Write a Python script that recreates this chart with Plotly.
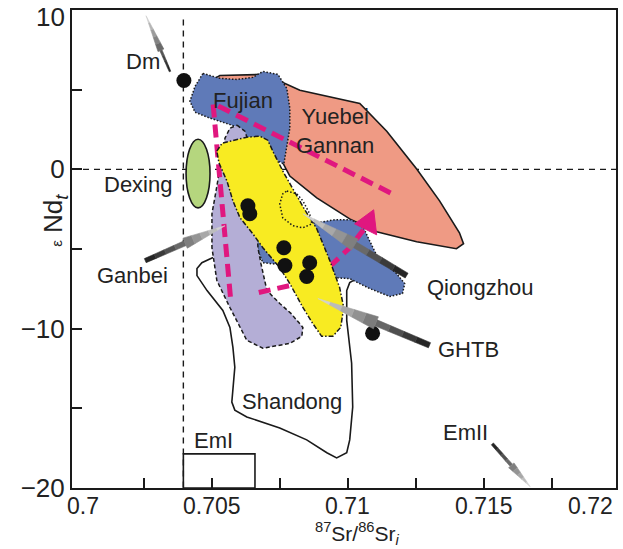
import math
import plotly.graph_objects as go

# ---------------- data (Sr-Nd isotope fields) ----------------
YUEBEI_X = [0.70494, 0.70530, 0.70695, 0.70824, 0.71044, 0.71143, 0.71253, 0.71337, 0.71410,
            0.71425, 0.71399, 0.71253, 0.71106, 0.71007, 0.70886, 0.70787, 0.70758, 0.70714, 0.70604]
YUEBEI_Y = [5.52, 5.89, 5.96, 4.96, 4.14, 2.39, 0.02, -1.98, -3.98,
            -4.67, -4.98, -4.54, -3.92, -3.11, -1.79, -0.42, 0.52, 1.77, 3.64]

FUJIAN_X = [0.70468, 0.70530, 0.70593, 0.70651, 0.70688, 0.70743, 0.70776, 0.70787, 0.70787,
            0.70776, 0.70765, 0.70677, 0.70585, 0.70494, 0.70439, 0.70420, 0.70439]
FUJIAN_Y = [6.02, 5.71, 5.64, 5.77, 6.14, 5.96, 5.08, 3.83, 2.58,
            1.33, 0.33, 1.14, 2.71, 3.21, 3.58, 4.27, 5.21]

QIONG_X = [0.70662, 0.70787, 0.70882, 0.70952, 0.71014, 0.71058, 0.71080, 0.71110, 0.71179,
           0.71209, 0.71201, 0.71154, 0.71080, 0.71007, 0.70945, 0.70824, 0.70750, 0.70688, 0.70670]
QIONG_Y = [-3.86, -3.23, -3.36, -3.17, -3.17, -3.67, -4.48, -5.54, -6.54,
           -7.17, -7.79, -7.98, -7.48, -6.86, -6.79, -6.36, -5.98, -5.86, -5.11]

GANBEI_X = [0.70593, 0.70622, 0.70648, 0.70662, 0.70670, 0.70681, 0.70703, 0.70750, 0.70791,
            0.70835, 0.70831, 0.70787, 0.70688, 0.70629, 0.70567, 0.70519, 0.70501, 0.70501,
            0.70516, 0.70534, 0.70549, 0.70567]
GANBEI_Y = [2.77, 2.39, 1.14, -1.98, -4.92, -5.92, -7.61, -8.42, -9.04,
            -9.92, -10.48, -10.92, -11.23, -10.73, -8.67, -6.98, -4.92, -2.79,
            -1.36, 0.52, 1.96, 2.58]

YELLOW_X = [0.70519, 0.70538, 0.70629, 0.70677, 0.70706, 0.70728, 0.70765, 0.70802, 0.70838,
            0.70886, 0.70934, 0.70970, 0.70985, 0.70974, 0.70945, 0.70904, 0.70871, 0.70835,
            0.70787, 0.70750, 0.70688, 0.70651, 0.70604, 0.70578, 0.70556, 0.70527]
YELLOW_Y = [1.14, 1.64, 2.02, 2.08, 1.83, 1.02, -0.23, -1.36, -2.42,
            -3.73, -5.73, -7.42, -8.67, -9.92, -10.48, -10.48, -9.67, -8.67,
            -7.17, -6.17, -4.92, -4.04, -3.04, -1.98, -0.73, 0.39]

SMALL_X = [0.70776, 0.70813, 0.70835, 0.70860, 0.70868, 0.70835, 0.70798, 0.70761, 0.70750, 0.70761]
SMALL_Y = [-1.36, -1.54, -1.98, -2.79, -3.42, -3.67, -3.54, -3.04, -2.17, -1.54]

SHANDONG_X = [0.70505, 0.70464, 0.70446, 0.70446, 0.70483, 0.70541, 0.70567, 0.70578, 0.70585,
              0.70578, 0.70574, 0.70585, 0.70629, 0.70750, 0.70849, 0.70923, 0.70959, 0.70996,
              0.71007, 0.71018, 0.71014, 0.70996, 0.70996, 0.71007, 0.71033]
SHANDONG_Y = [-5.54, -5.86, -6.23, -6.67, -7.61, -8.86, -9.92, -11.17, -12.42,
              -14.04, -14.61, -15.11, -15.54, -16.23, -16.98, -17.79, -18.11, -17.79,
              -16.98, -14.92, -12.17, -9.48, -7.61, -7.11, -6.86]

DEXING_BOX = [0.70406, 0.70494, -2.42, 1.89]   # x0, x1, y0, y1 of the ellipse
EMI_BOX = [0.70396, 0.70659, -20.0, -17.86]

TREND_A_X = [0.71157, 0.70505, 0.70571]
TREND_A_Y = [-1.48, 4.14, -8.42]
TREND_B_X = [0.70673, 0.70805, 0.70945, 0.71007, 0.71058]
TREND_B_Y = [-7.73, -7.23, -5.92, -4.92, -3.79]
TREND_HEAD_X = [0.71095, 0.71025, 0.71106]
TREND_HEAD_Y = [-2.54, -3.42, -4.11]

DOTS_X = [0.70398, 0.70633, 0.70640, 0.70765, 0.70769, 0.70860, 0.70849, 0.71091]
DOTS_Y = [5.58, -2.29, -2.79, -4.92, -6.04, -5.86, -6.73, -10.29]

# gray pointer arrows: tail -> tip
ARROW_TAIL_X = [0.70347, 0.70256, 0.71216, 0.71300, 0.71531]
ARROW_TAIL_Y = [6.14, -5.73, -6.67, -11.04, -17.23]
ARROW_TIP_X = [0.70259, 0.70549, 0.70835, 0.70890, 0.71670]
ARROW_TIP_Y = [9.64, -3.54, -2.79, -8.11, -19.92]

LABELS = ["Dm", "Fujian", "Yuebei<br>Gannan", "Dexing", "Ganbei", "Qiongzhou", "GHTB",
          "Shandong", "EmI", "EmII"]
LABEL_X = [0.70248, 0.70615, 0.70952, 0.70230, 0.70208, 0.71484, 0.71443, 0.70794, 0.70505, 0.71432]
LABEL_Y = [6.77, 4.33, 2.39, -0.98, -6.67, -7.42, -11.29, -14.54, -17.04, -16.54]

X_TICKS = [0.705, 0.71, 0.715]
X_MINOR = [0.7025, 0.7075, 0.7125, 0.7175]
X_LABEL_TEXT = ["0.7", "0.705", "0.71", "0.715", "0.72"]
X_LABEL_POS = [0.70028, 0.705, 0.71, 0.715, 0.71890]
Y_TICKS = [-20, -10, 0]
Y_TICK_TEXT = ["\u221220", "\u221210", "0"]
Y_MINOR = [-15, -5, 5]
Y_TOP_LABEL = "10"

# ---------------- layout constants ----------------
X0, X1 = 0.69987, 0.71985
Y0, Y1 = -20, 10
ML, MR, MT, MB = 72, 5, 10, 61
W, H = 623, 549
PW, PH = W - ML - MR, H - MT - MB
SX, SY = PW / (X1 - X0), PH / (Y1 - Y0)

FONT = "Liberation Sans, Arial, sans-serif"
INK = "#1a1a1a"
TXT = "#222222"

fig = go.Figure()


def poly(xs, ys, fill, dash, width=1.5):
    fig.add_trace(go.Scatter(x=xs + [xs[0]], y=ys + [ys[0]], mode="lines", fill="toself",
                             fillcolor=fill, line=dict(color=INK, width=width, dash=dash),
                             hoverinfo="skip"))


# Shandong (open outline)
fig.add_trace(go.Scatter(x=SHANDONG_X, y=SHANDONG_Y, mode="lines",
                         line=dict(color=INK, width=1.6), hoverinfo="skip"))
poly(YUEBEI_X, YUEBEI_Y, "#EF9A84", "solid", 1.6)
poly(FUJIAN_X, FUJIAN_Y, "#5F7AB8", "1.5px,1.8px")
poly(QIONG_X, QIONG_Y, "#5F7AB8", "1.5px,1.8px")
poly(GANBEI_X, GANBEI_Y, "#B4AED6", "4px,2.5px")

PINK = "#E0177F"
fig.add_trace(go.Scatter(x=TREND_A_X, y=TREND_A_Y, mode="lines",
                         line=dict(color=PINK, width=5, dash="13px,7px"), hoverinfo="skip"))
fig.add_trace(go.Scatter(x=TREND_B_X, y=TREND_B_Y, mode="lines",
                         line=dict(color=PINK, width=5, dash="12px,7px"), hoverinfo="skip"))
fig.add_trace(go.Scatter(x=TREND_HEAD_X + [TREND_HEAD_X[0]], y=TREND_HEAD_Y + [TREND_HEAD_Y[0]],
                         mode="lines", fill="toself", fillcolor=PINK,
                         line=dict(color=PINK, width=1), hoverinfo="skip"))

poly(YELLOW_X, YELLOW_Y, "#F8EB22", "5px,2px,1.5px,2px")
fig.add_trace(go.Scatter(x=SMALL_X + [SMALL_X[0]], y=SMALL_Y + [SMALL_Y[0]], mode="lines",
                         line=dict(color=INK, width=1.5, dash="1.5px,2px"), hoverinfo="skip"))

fig.add_trace(go.Scatter(x=DOTS_X, y=DOTS_Y, mode="markers",
                         marker=dict(size=15, color="#111111", line=dict(width=0)),
                         hoverinfo="skip"))


# gray tapered pointer arrows (gradient from dark tail to light tip)
ARROW_STYLE = [  # w_tail, w_neck, w_barb (half widths, px), head fraction
    (0.8, 1.2, 3.2, 0.62),
    (2.2, 2.6, 5.5, 0.5),
    (2.8, 3.2, 6.5, 0.5),
    (2.8, 3.2, 6.5, 0.52),
    (1.4, 1.6, 3.6, 0.5),
]


def lerp_col(a, b, t):
    ca = [int(a[i:i + 2], 16) for i in (1, 3, 5)]
    cb = [int(b[i:i + 2], 16) for i in (1, 3, 5)]
    return "rgb(%d,%d,%d)" % tuple(round(ca[k] + (cb[k] - ca[k]) * t) for k in range(3))


def add_arrow(tx, ty, px_, py_, style):
    w_tail, w_neck, w_barb, hf = style
    dxp, dyp = (px_ - tx) * SX, (py_ - ty) * SY
    L = math.hypot(dxp, dyp)
    nx, ny = -dyp / L, dxp / L

    def pt(t, w, s):
        return (tx + (px_ - tx) * t + s * nx * w / SX, ty + (py_ - ty) * t + s * ny * w / SY)

    h0 = 1 - hf
    segs = []
    ns, nh = 4, 5
    for i in range(ns):
        a, b = h0 * i / ns, h0 * (i + 1) / ns
        segs.append((a, b, w_tail + (w_neck - w_tail) * a / h0, w_tail + (w_neck - w_tail) * b / h0))
    for i in range(nh):
        a, b = h0 + hf * i / nh, h0 + hf * (i + 1) / nh
        segs.append((a, b, w_barb * (1 - a) / hf, w_barb * (1 - b) / hf))
    for a, b, wa, wb in segs:
        p = [pt(a, wa, 1), pt(b, wb, 1), pt(b, wb, -1), pt(a, wa, -1), pt(a, wa, 1)]
        col = lerp_col("#1c1c1c", "#dcdcdc", ((a + b) / 2) ** 1.1)
        fig.add_trace(go.Scatter(x=[q[0] for q in p], y=[q[1] for q in p], mode="lines",
                                 fill="toself", fillcolor=col, line=dict(color=col, width=0.6),
                                 hoverinfo="skip"))


for i in range(len(ARROW_TAIL_X)):
    add_arrow(ARROW_TAIL_X[i], ARROW_TAIL_Y[i], ARROW_TIP_X[i], ARROW_TIP_Y[i], ARROW_STYLE[i])

# reference lines, Dexing ellipse, EmI box
shapes = [
    dict(type="line", xref="x", yref="y", x0=0.70396, x1=0.70396, y0=9.4, y1=-20,
         line=dict(color=INK, width=1.4, dash="6px,5px"), layer="below"),
    dict(type="line", xref="x", yref="y", x0=X0, x1=X1, y0=0, y1=0,
         line=dict(color=INK, width=1.4, dash="6px,5px"), layer="below"),
    dict(type="circle", xref="x", yref="y", x0=DEXING_BOX[0], x1=DEXING_BOX[1],
         y0=DEXING_BOX[2], y1=DEXING_BOX[3], fillcolor="#B5D67E",
         line=dict(color=INK, width=1.6), layer="below"),
    dict(type="rect", xref="x", yref="y", x0=EMI_BOX[0], x1=EMI_BOX[1], y0=EMI_BOX[2],
         y1=EMI_BOX[3], line=dict(color=INK, width=1.6), layer="above"),
]

annotations = []
for t, x, y in zip(LABELS, LABEL_X, LABEL_Y):
    annotations.append(dict(text=t, x=x, y=y, xref="x", yref="y", showarrow=False,
                            font=dict(family=FONT, size=22, color=TXT), align="center"))
# x tick labels
for t, x in zip(X_LABEL_TEXT, X_LABEL_POS):
    annotations.append(dict(text=t, x=x, y=0, xref="x", yref="paper", yanchor="top",
                            yshift=-4, showarrow=False, borderpad=0,
                            font=dict(family=FONT, size=23, color=TXT)))
annotations.append(dict(text=Y_TOP_LABEL, x=0, y=Y1, xref="paper", yref="y", xanchor="right",
                        yanchor="middle", xshift=-5, yshift=-7, showarrow=False,
                        font=dict(family=FONT, size=26, color=TXT)))
annotations.append(dict(text="<sup>87</sup>Sr/<sup>86</sup>Sr<sub><i>i</i></sub>", x=0.71035,
                        y=0, xref="x", yref="paper", yanchor="bottom", yshift=-61,
                        showarrow=False, borderpad=0,
                        font=dict(family=FONT, size=21, color=TXT)))
annotations.append(dict(text="<span style='font-size:15px'>\u03b5</span> Nd<sub><i>t</i></sub>",
                        x=0, xref="paper", xshift=-36, y=-3.2, yref="y", textangle=-90,
                        showarrow=False, font=dict(family=FONT, size=26, color=TXT)))

fig.update_layout(
    width=W, height=H, margin=dict(l=ML, r=MR, t=MT, b=MB),
    paper_bgcolor="white", plot_bgcolor="white", showlegend=False,
    shapes=shapes, annotations=annotations,
    xaxis=dict(range=[X0, X1], tickvals=X_TICKS, showticklabels=False, ticks="inside",
               ticklen=10, tickwidth=1.5, tickcolor=INK, showline=True, linewidth=2,
               linecolor=INK, mirror=True, showgrid=False, zeroline=False,
               minor=dict(tickvals=X_MINOR, ticks="inside", ticklen=10, tickwidth=1.5,
                          tickcolor=INK, showgrid=False)),
    yaxis=dict(range=[Y0, Y1], tickvals=Y_TICKS, ticktext=Y_TICK_TEXT, ticks="inside",
               ticklen=10, tickwidth=1.5, tickcolor=INK, showline=True, linewidth=2,
               linecolor=INK, mirror=True, showgrid=False, zeroline=False,
               minor=dict(tickvals=Y_MINOR, ticks="inside", ticklen=10, tickwidth=1.5,
                          tickcolor=INK, showgrid=False),
               tickfont=dict(family=FONT, size=26, color=TXT)),
)

fig.write_html("out.html")
